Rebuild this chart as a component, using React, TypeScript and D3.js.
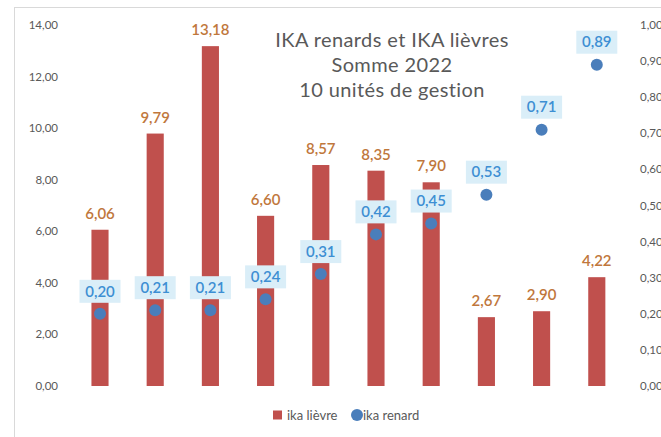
import React from "react";
import * as d3 from "d3";

const units = ["UG1", "UG2", "UG3", "UG4", "UG5", "UG6", "UG7", "UG8", "UG9", "UG10"];
const ikaLievre = [6.06, 9.79, 13.18, 6.6, 8.57, 8.35, 7.9, 2.67, 2.9, 4.22];
const ikaRenard = [0.2, 0.21, 0.21, 0.24, 0.31, 0.42, 0.45, 0.53, 0.71, 0.89];
const leftTicks = [0, 2, 4, 6, 8, 10, 12, 14];
const rightTicks = [0, 0.1, 0.2, 0.3, 0.4, 0.5, 0.6, 0.7, 0.8, 0.9, 1.0];
const titleLines = ["IKA renards et IKA lièvres", "Somme 2022", "10 unités de gestion"];
const legendLabels = ["ika lièvre", "ika renard"];

const W = 661;
const H = 437;
const FONT = "Lato, 'Open Sans', sans-serif";

const fr = (v: number) => d3.format(".2f")(v).replace(".", ",");

export default function App() {
  const x = d3
    .scaleBand<string>()
    .domain(units)
    .range([72.4, 624.4])
    .paddingInner(0.69)
    .paddingOuter(0.345);
  const yL = d3.scaleLinear().domain([0, 14]).range([386, 25]);
  const yR = d3.scaleLinear().domain([0, 1]).range([386, 25]);

  return (
    <svg
      width={W}
      height={H}
      style={{ position: "absolute", left: 0, top: 0, background: "#fff" }}
      fontFamily={FONT}
    >
      <rect x={0} y={0} width={W} height={H} fill="#fff" />
      <rect x={14.5} y={7.5} width={W + 20} height={H + 20} fill="none" stroke="#d9d9d9" />

      {/* left axis labels */}
      {leftTicks.map((t) => (
        <text key={"l" + t} x={58} y={yL(t)} dy="0.35em" textAnchor="end" fontSize={11.5} fill="#595959">
          {fr(t)}
        </text>
      ))}
      {/* right axis labels */}
      {rightTicks.map((t) => (
        <text key={"r" + t} x={640} y={yR(t)} dy="0.35em" textAnchor="start" fontSize={11.5} fill="#595959">
          {fr(t)}
        </text>
      ))}

      {/* title */}
      {titleLines.map((s, i) => (
        <text
          key={s}
          x={392}
          y={40 + i * 25}
          dy="0.35em"
          textAnchor="middle"
          fontSize={20}
          letterSpacing={0.4}
          fill="#595959"
        >
          {s}
        </text>
      ))}

      {/* bars */}
      {units.map((u, i) => (
        <rect
          key={"b" + u}
          x={x(u)!}
          y={yL(ikaLievre[i])}
          width={x.bandwidth()}
          height={yL(0) - yL(ikaLievre[i])}
          fill="#c0504d"
        />
      ))}
      {units.map((u, i) => (
        <text
          key={"bl" + u}
          x={x(u)! + x.bandwidth() / 2}
          y={yL(ikaLievre[i]) - 11}
          textAnchor="middle"
          fontSize={15}
          fontWeight={600}
          fill="#c0773c"
        >
          {fr(ikaLievre[i])}
        </text>
      ))}

      {/* renard dots */}
      {units.map((u, i) => {
        const cx = x(u)! + x.bandwidth() / 2;
        const cy = yR(ikaRenard[i]);
        return (
          <g key={"d" + u}>
            <circle cx={cx} cy={cy} r={6} fill="#4a7ebb" />
            <rect x={cx - 20.5} y={cy - 34} width={41} height={23} fill="#daeef8" />
            <text x={cx} y={cy - 22.5} dy="0.35em" textAnchor="middle" fontSize={15} fontWeight={600} fill="#3d8fd3">
              {fr(ikaRenard[i])}
            </text>
          </g>
        );
      })}

      {/* legend */}
      <rect x={273} y={410.5} width={9} height={9} fill="#c0504d" />
      <text x={287} y={415} dy="0.35em" fontSize={13} fill="#595959">
        {legendLabels[0]}
      </text>
      <circle cx={357} cy={415} r={6} fill="#4a7ebb" />
      <text x={363} y={415} dy="0.35em" fontSize={13} fill="#595959">
        {legendLabels[1]}
      </text>
    </svg>
  );
}
